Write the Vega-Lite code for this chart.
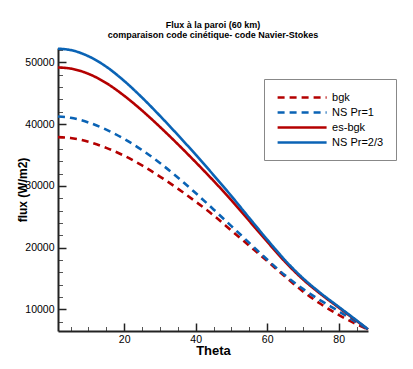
{
  "$schema": "https://vega.github.io/schema/vega-lite/v6.json",
  "width": 310,
  "height": 283,
  "autosize": {"type": "none"},
  "padding": {"left": 58, "top": 48, "right": 45, "bottom": 38},
  "background": "white",
  "title": {
    "text": ["Flux à la paroi (60 km)", "comparaison code cinétique- code Navier-Stokes"],
    "font": "Liberation Sans",
    "fontSize": 9,
    "fontWeight": "bold",
    "color": "black",
    "anchor": "middle",
    "lineHeight": 10,
    "offset": 4
  },
  "data": {
    "values": [
      {"series": "bgk", "theta": 1.5, "flux": 37900},
      {"series": "bgk", "theta": 5, "flux": 37760},
      {"series": "bgk", "theta": 10, "flux": 37135},
      {"series": "bgk", "theta": 15, "flux": 36160},
      {"series": "bgk", "theta": 20, "flux": 34885},
      {"series": "bgk", "theta": 25, "flux": 33310},
      {"series": "bgk", "theta": 30, "flux": 31510},
      {"series": "bgk", "theta": 35, "flux": 29550},
      {"series": "bgk", "theta": 40, "flux": 27450},
      {"series": "bgk", "theta": 45, "flux": 25220},
      {"series": "bgk", "theta": 50, "flux": 22760},
      {"series": "bgk", "theta": 55, "flux": 20290},
      {"series": "bgk", "theta": 60, "flux": 17820},
      {"series": "bgk", "theta": 65, "flux": 15300},
      {"series": "bgk", "theta": 70, "flux": 12900},
      {"series": "bgk", "theta": 75, "flux": 10850},
      {"series": "bgk", "theta": 80, "flux": 9080},
      {"series": "bgk", "theta": 85, "flux": 7580},
      {"series": "bgk", "theta": 88.2, "flux": 6720},
      {"series": "NS Pr=1", "theta": 1.5, "flux": 41240},
      {"series": "NS Pr=1", "theta": 5, "flux": 41030},
      {"series": "NS Pr=1", "theta": 10, "flux": 40280},
      {"series": "NS Pr=1", "theta": 15, "flux": 39105},
      {"series": "NS Pr=1", "theta": 20, "flux": 37605},
      {"series": "NS Pr=1", "theta": 25, "flux": 35805},
      {"series": "NS Pr=1", "theta": 30, "flux": 33705},
      {"series": "NS Pr=1", "theta": 35, "flux": 31355},
      {"series": "NS Pr=1", "theta": 40, "flux": 28830},
      {"series": "NS Pr=1", "theta": 45, "flux": 26180},
      {"series": "NS Pr=1", "theta": 50, "flux": 23480},
      {"series": "NS Pr=1", "theta": 55, "flux": 20755},
      {"series": "NS Pr=1", "theta": 60, "flux": 18055},
      {"series": "NS Pr=1", "theta": 65, "flux": 15505},
      {"series": "NS Pr=1", "theta": 70, "flux": 13305},
      {"series": "NS Pr=1", "theta": 75, "flux": 11405},
      {"series": "NS Pr=1", "theta": 80, "flux": 9680},
      {"series": "NS Pr=1", "theta": 85, "flux": 7880},
      {"series": "NS Pr=1", "theta": 88.2, "flux": 6760},
      {"series": "es-bgk", "theta": 1.5, "flux": 49190},
      {"series": "es-bgk", "theta": 5, "flux": 49010},
      {"series": "es-bgk", "theta": 10, "flux": 48160},
      {"series": "es-bgk", "theta": 15, "flux": 46660},
      {"series": "es-bgk", "theta": 20, "flux": 44610},
      {"series": "es-bgk", "theta": 25, "flux": 42210},
      {"series": "es-bgk", "theta": 30, "flux": 39560},
      {"series": "es-bgk", "theta": 35, "flux": 36760},
      {"series": "es-bgk", "theta": 40, "flux": 33840},
      {"series": "es-bgk", "theta": 45, "flux": 30820},
      {"series": "es-bgk", "theta": 50, "flux": 27670},
      {"series": "es-bgk", "theta": 55, "flux": 24320},
      {"series": "es-bgk", "theta": 60, "flux": 20960},
      {"series": "es-bgk", "theta": 65, "flux": 17700},
      {"series": "es-bgk", "theta": 70, "flux": 14850},
      {"series": "es-bgk", "theta": 75, "flux": 12450},
      {"series": "es-bgk", "theta": 80, "flux": 10280},
      {"series": "es-bgk", "theta": 85, "flux": 8120},
      {"series": "es-bgk", "theta": 88.2, "flux": 6720},
      {"series": "NS Pr=2/3", "theta": 1.5, "flux": 52220},
      {"series": "NS Pr=2/3", "theta": 5, "flux": 52010},
      {"series": "NS Pr=2/3", "theta": 10, "flux": 51010},
      {"series": "NS Pr=2/3", "theta": 15, "flux": 49310},
      {"series": "NS Pr=2/3", "theta": 20, "flux": 47010},
      {"series": "NS Pr=2/3", "theta": 25, "flux": 44310},
      {"series": "NS Pr=2/3", "theta": 30, "flux": 41360},
      {"series": "NS Pr=2/3", "theta": 35, "flux": 38260},
      {"series": "NS Pr=2/3", "theta": 40, "flux": 35060},
      {"series": "NS Pr=2/3", "theta": 45, "flux": 31750},
      {"series": "NS Pr=2/3", "theta": 50, "flux": 28350},
      {"series": "NS Pr=2/3", "theta": 55, "flux": 24800},
      {"series": "NS Pr=2/3", "theta": 60, "flux": 21300},
      {"series": "NS Pr=2/3", "theta": 65, "flux": 17950},
      {"series": "NS Pr=2/3", "theta": 70, "flux": 15050},
      {"series": "NS Pr=2/3", "theta": 75, "flux": 12600},
      {"series": "NS Pr=2/3", "theta": 80, "flux": 10400},
      {"series": "NS Pr=2/3", "theta": 85, "flux": 8200},
      {"series": "NS Pr=2/3", "theta": 88.2, "flux": 6760}
    ]
  },
  "layer": [
    {
      "mark": {"type": "line", "opacity": 0},
      "encoding": {
        "x": {
          "field": "theta", "type": "quantitative",
          "scale": {"domain": [1.5, 88.2], "nice": false, "zero": false},
          "axis": {"orient": "bottom", "values": [5, 10, 15, 25, 30, 35, 45, 50, 55, 65, 70, 75, 85], "labels": false, "domain": false, "ticks": true, "tickSize": -4.5, "tickWidth": 1, "tickColor": "#555", "title": null, "grid": false}
        },
        "y": {
          "field": "flux", "type": "quantitative",
          "scale": {"domain": [6480, 52340], "nice": false, "zero": false},
          "axis": {"orient": "left", "values": [8000, 12000, 14000, 16000, 18000, 22000, 24000, 26000, 28000, 32000, 34000, 36000, 38000, 42000, 44000, 46000, 48000, 52000], "labels": false, "domain": false, "ticks": true, "tickSize": -4.5, "tickWidth": 1, "tickColor": "#555", "title": null, "grid": false}
        },
        "detail": {"field": "series", "type": "nominal"}
      }
    },
    {
      "mark": {"type": "line", "strokeWidth": 2.6, "strokeCap": "butt", "interpolate": "monotone"},
      "encoding": {
        "x": {
          "field": "theta", "type": "quantitative",
          "scale": {"domain": [1.5, 88.2], "nice": false, "zero": false},
          "axis": {"orient": "bottom", "values": [20, 40, 60, 80], "tickSize": -8, "tickWidth": 1.5, "tickColor": "#222", "domainColor": "#222", "domainWidth": 2, "labelPadding": 11, "labelFont": "Liberation Sans", "labelFontSize": 10.5, "labelColor": "black", "grid": false, "title": "Theta", "titleFont": "Liberation Sans", "titleFontSize": 13, "titleFontWeight": "bold", "titleColor": "black", "titleX": 155, "titleY": 23, "titleBaseline": "alphabetic"}
        },
        "y": {
          "field": "flux", "type": "quantitative",
          "scale": {"domain": [6480, 52340], "nice": false, "zero": false},
          "axis": {"orient": "left", "values": [10000, 20000, 30000, 40000, 50000], "format": "d", "tickSize": -8, "tickWidth": 1.5, "tickColor": "#222", "domainColor": "#222", "domainWidth": 2, "labelPadding": 12, "labelFont": "Liberation Sans", "labelFontSize": 10.5, "labelColor": "black", "grid": false, "title": "flux (W/m2)", "titleFont": "Liberation Sans", "titleFontSize": 12, "titleFontWeight": "bold", "titleColor": "black", "titleX": -36, "titleY": 141.5, "titleAngle": -90, "titleBaseline": "middle", "titleAlign": "center"}
        },
        "color": {
          "field": "series", "type": "nominal",
          "scale": {"domain": ["bgk", "NS Pr=1", "es-bgk", "NS Pr=2/3"], "range": ["#b40000", "#0a63b5", "#b40000", "#0a63b5"]},
          "legend": {"title": null}
        },
        "strokeDash": {
          "field": "series", "type": "nominal",
          "scale": {"domain": ["bgk", "NS Pr=1", "es-bgk", "NS Pr=2/3"], "range": [[7, 5], [7, 5], [1, 0], [1, 0]]},
          "legend": {"title": null}
        }
      }
    }
  ],
  "resolve": {"axis": {"x": "independent", "y": "independent"}},
  "config": {
    "view": {"stroke": null},
    "legend": {
      "orient": "none",
      "legendX": 206,
      "legendY": 31,
      "symbolType": "M0,0H10",
      "symbolSize": 96,
      "symbolOffset": -4.9,
      "symbolStrokeWidth": 2.6,
      "labelOffset": 48,
      "labelFont": "Liberation Sans",
      "labelFontSize": 11,
      "labelColor": "black",
      "rowPadding": 3,
      "padding": 12,
      "strokeColor": "#888",
      "fillColor": "white"
    }
  }
}
